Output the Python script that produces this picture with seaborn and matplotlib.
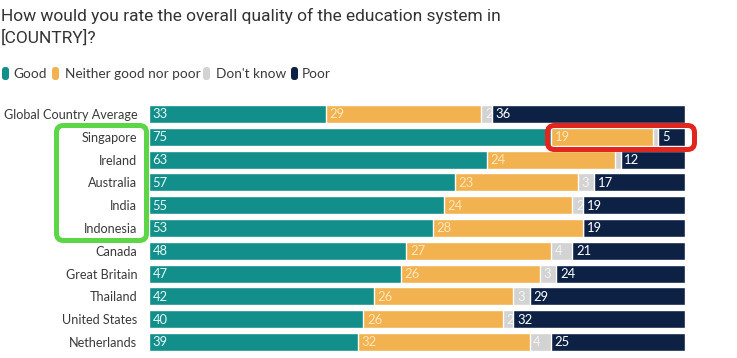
import matplotlib
matplotlib.use("Agg")
import matplotlib.pyplot as plt
from matplotlib.patches import FancyBboxPatch
from matplotlib import font_manager
import seaborn as sns
import pandas as pd
import numpy as np

# ---- data ----
countries = ["Global Country Average", "Singapore", "Ireland", "Australia", "India",
             "Indonesia", "Canada", "Great Britain", "Thailand", "United States", "Netherlands"]
good = [33, 75, 63, 57, 55, 53, 48, 47, 42, 40, 39]
neither = [29, 19, 24, 23, 24, 28, 27, 26, 26, 26, 32]
dont_know = [2, 1, 1, 3, 2, 0, 4, 3, 3, 2, 4]
poor = [36, 5, 12, 17, 19, 19, 21, 24, 29, 32, 25]
series_names = ["Good", "Neither good nor poor", "Don't know", "Poor"]
title_lines = ["How would you rate the overall quality of the education system in", "[COUNTRY]?"]

colors = ["#128f8b", "#f2b24f", "#d3d3d3", "#0d2145"]
label_colors = ["#e8f8f5", "#fbe6bd", "#f4f4f4", "#ffffff"]

W, H = 737, 358
sns.set_theme(style="white")
plt.rcParams['font.family'] = ['Lato', 'DejaVu Sans']

fig = plt.figure(figsize=(W / 100, H / 100), dpi=100)
fig.patch.set_facecolor("white")

def fx(x):
    return x / W

def fy(y):
    return 1 - y / H

# axes: x 0->149px, 100->685px ; rows centred 114 .. 342 px
row_px = (342 - 114) / 10
top_px = 114 - row_px / 2
bot_px = 342 + row_px / 2
ax = fig.add_axes([fx(149), fy(bot_px), fx(685) - fx(149), (bot_px - top_px) / H])

df = pd.DataFrame({"country": countries, "Good": good, "Neither": neither,
                   "DK": dont_know, "Poor": poor})
segs = ["Good", "Neither", "DK", "Poor"]
cum = df[segs].cumsum(axis=1)

# layered stacked bars: draw widest cumulative first
for i in range(3, -1, -1):
    sns.barplot(x=cum[segs[i]], y=df["country"], orient="h", color=colors[i],
                saturation=1, width=0.79, edgecolor="white", linewidth=1.0,
                errorbar=None, ax=ax, order=countries)

# value labels
starts = cum.shift(1, axis=1).fillna(0)
for r in range(len(countries)):
    for i, s in enumerate(segs):
        v = df.loc[r, s]
        if v < 2:
            continue
        ax.annotate(f"{v}", xy=(starts.loc[r, s], r), xytext=(2.6, -0.3),
                    textcoords="offset points", ha="left", va="center",
                    fontsize=9.4, color=label_colors[i], family=["Lato", "DejaVu Sans"])

ax.set_xlim(0, 100)
ax.set_ylim(len(countries) - 0.5, -0.5)
ax.set_xlabel("")
ax.set_ylabel("")
ax.set_xticks([])
for sp in ax.spines.values():
    sp.set_visible(False)
ax.tick_params(axis="y", length=0, pad=8.4, labelsize=9.8, labelcolor="#3a3a3a")

# ---- title ----
names = {f.name for f in font_manager.fontManager.ttflist}
if "Liberation Sans Narrow" in names:
    tfam, tsize = ["Liberation Sans Narrow", "DejaVu Sans"], 13.8
else:
    tfam, tsize = ["Roboto", "DejaVu Sans"], 11.2
t1 = fig.text(fx(1), fy(21), title_lines[0], ha="left", va="baseline",
              fontsize=tsize, color="#333333", family=tfam)
t2 = fig.text(fx(1), fy(43), title_lines[1], ha="left", va="baseline",
              fontsize=tsize, color="#333333", family=tfam)
fig.canvas.draw()
rend = fig.canvas.get_renderer()
wpx = t1.get_window_extent(rend).width
if wpx > 0:
    ns = tsize * 502 / wpx
    t1.set_fontsize(ns)
    t2.set_fontsize(ns)

# fit category labels so the longest spans ~135 px
lbls = ax.get_yticklabels()
wmax = max(l.get_window_extent(rend).width for l in lbls)
if wmax > 0:
    ax.tick_params(axis="y", labelsize=9.8 * 135 / wmax)

# ---- legend ----
inch = fig.dpi_scale_trans
def px_rect(x0, y0, x1, y1, **kw):
    p = FancyBboxPatch((x0 / 100, (H - y1) / 100), (x1 - x0) / 100, (y1 - y0) / 100,
                       transform=inch, clip_on=False, **kw)
    fig.patches.append(p)
    return p

legend_marker_x = [2, 52, 203, 291]
legend_text_x = [13, 65, 216, 302]
for i in range(4):
    x0 = legend_marker_x[i]
    px_rect(x0, 67, x0 + 7, 80, boxstyle="round,pad=0,rounding_size=0.03",
            facecolor=colors[i], edgecolor="none")
    fig.text(fx(legend_text_x[i]), fy(73.5), series_names[i], ha="left", va="center",
             fontsize=9.8, color="#3a3a3a", family=["Lato", "DejaVu Sans"])

# ---- highlight boxes ----
px_rect(56.5, 125.5, 146.5, 240.5, boxstyle="round,pad=0,rounding_size=0.07",
        facecolor="none", edgecolor="#5cd646", linewidth=3.6, zorder=5)
px_rect(547.5, 125.5, 694.5, 149.5, boxstyle="round,pad=0,rounding_size=0.07",
        facecolor="none", edgecolor="#e3261d", linewidth=3.6, zorder=5)

fig.savefig("out.png", dpi=100, facecolor="white")
